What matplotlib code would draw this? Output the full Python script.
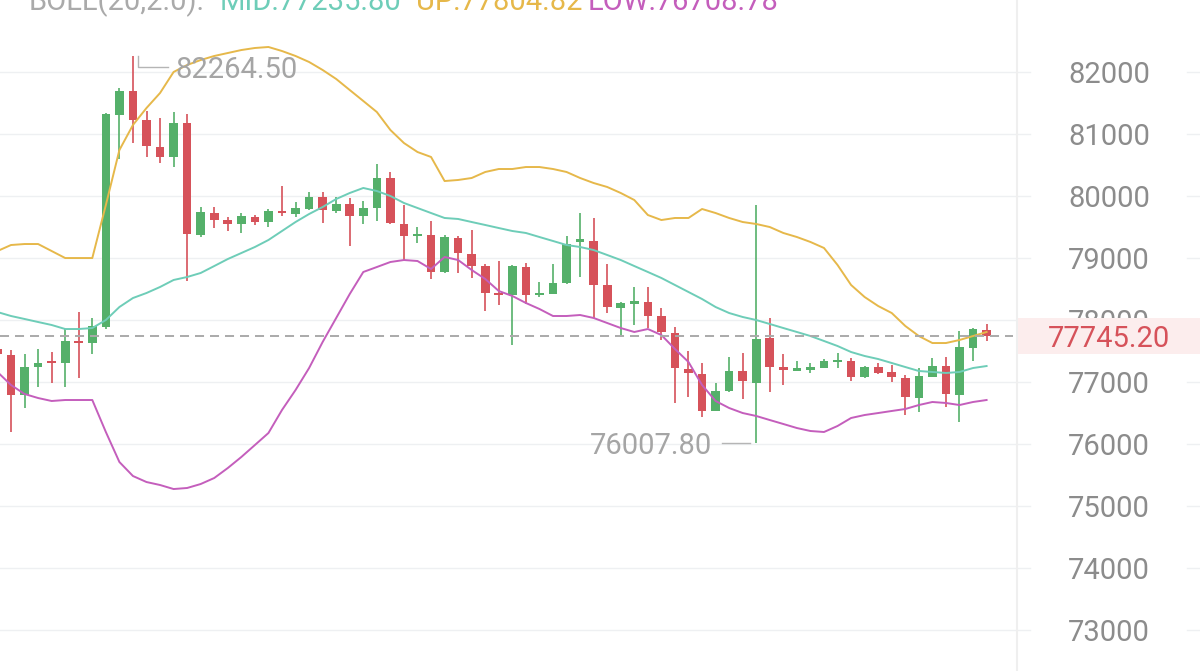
import numpy as np
import matplotlib
matplotlib.use("Agg")
import matplotlib.pyplot as plt
from matplotlib.patches import Rectangle
from matplotlib.transforms import blended_transform_factory

plt.rcParams['font.family'] = ['Roboto', 'DejaVu Sans']
plt.rcParams['lines.scale_dashes'] = False

# candles (oldest -> newest)
opens = [77532, 77435, 76790, 77246, 77327, 77301, 77661, 77623, 77891, 81306,
         81698, 81225, 80795, 80624, 81182, 79375, 79720, 79612, 79548, 79666,
         79580, 79753, 79709, 79790, 79978, 79753, 79870, 79677, 79801, 80295,
         79548, 79354, 79370, 78779, 79327, 79064, 78870, 78440, 78398, 78859,
         78408, 78419, 78591, 79258, 79279, 78564, 78188, 78257, 78295, 78064,
         77795, 77204, 77128, 76532, 76854, 77182, 76988, 77704, 77236, 77182,
         77193, 77230, 77322, 77343, 77075, 77236, 77166, 77069, 76746, 77085,
         77257, 76790, 77543, 77838]
closes = [77451, 76790, 77241, 77311, 77301, 77661, 77623, 77903, 81322, 81698,
          81225, 80806, 80624, 81182, 79387, 79741, 79612, 79548, 79677, 79580,
          79763, 79720, 79801, 79988, 79774, 79870, 79682, 79801, 80295, 79569,
          79354, 79387, 78779, 79343, 79075, 78870, 78440, 78398, 78870, 78403,
          78440, 78601, 79225, 79301, 78564, 78204, 78279, 78306, 78064, 77811,
          77220, 77140, 76536, 76859, 77182, 77015, 77688, 77246, 77193, 77230,
          77246, 77338, 77354, 77075, 77246, 77149, 77085, 76752, 77096, 77257,
          76806, 77559, 77849, 77745.2]
highs = [77580, 77515, 77451, 77532, 77478, 77849, 78133, 78027, 81333, 81746,
         82264.5, 81375, 81253, 81359, 81322, 79817, 79817, 79666, 79720, 79693,
         79785, 80161, 79898, 80069, 80059, 79978, 79962, 79924, 80516, 80392,
         79854, 79495, 79601, 79370, 79354, 79451, 78903, 78956, 78887, 78924,
         78617, 78898, 79359, 79730, 79640, 78898, 78295, 78527, 78527, 78188,
         77891, 77504, 77301, 76978, 77398, 77462, 79854, 78027, 77446, 77338,
         77311, 77365, 77462, 77382, 77257, 77301, 77274, 77112, 77220, 77382,
         77407, 77827, 77865, 77935]
lows = [77386, 76193, 76580, 76919, 76978, 76924, 77069, 77446, 77849, 80591,
        80859, 80633, 80537, 80462, 78633, 79343, 79478, 79440, 79408, 79532,
        79504, 79677, 79656, 79774, 79559, 79720, 79198, 79548, 79601, 79548,
        78967, 79246, 78656, 78762, 78753, 78682, 78150, 78241, 77596, 78257,
        78365, 78411, 78580, 78698, 78027, 78107, 77757, 77919, 77865, 77677,
        76656, 76762, 76430, 76525, 76846, 76720, 76007.8, 76843, 76951, 77177,
        77140, 77220, 77220, 77020, 77064, 77128, 77004, 76467, 76520, 77080,
        76601, 76359, 77343, 77666]

# bollinger bands
boll_up = [79112, 79209, 79225, 79225, 79112, 78999, 78999, 78999, 79854, 80741,
           81145, 81419, 81661, 82000, 82113, 82193, 82258, 82306, 82354, 82387,
           82403, 82338, 82258, 82161, 82032, 81887, 81709, 81532, 81354, 81064,
           80854, 80709, 80629, 80241, 80258, 80290, 80387, 80435, 80435, 80467,
           80467, 80435, 80387, 80290, 80209, 80145, 80048, 79935, 79693, 79612,
           79645, 79645, 79790, 79725, 79645, 79580, 79548, 79499, 79403, 79338,
           79258, 79161, 78887, 78564, 78370, 78225, 78112, 77903, 77741, 77628,
           77628, 77677, 77741, 77806]
boll_mid = [78128, 78064, 78016, 77967, 77919, 77854, 77854, 77870, 77999, 78209,
            78354, 78435, 78532, 78645, 78693, 78758, 78870, 78983, 79080, 79177,
            79290, 79435, 79580, 79709, 79822, 79951, 80048, 80129, 80080, 80000,
            79887, 79806, 79725, 79645, 79629, 79580, 79532, 79483, 79435, 79403,
            79338, 79274, 79209, 79177, 79128, 79048, 78967, 78870, 78774, 78677,
            78564, 78451, 78338, 78209, 78112, 78048, 77999, 77935, 77870, 77806,
            77741, 77661, 77580, 77483, 77419, 77370, 77306, 77241, 77177, 77161,
            77145, 77161, 77225, 77257]
boll_low = [77161, 76951, 76806, 76741, 76693, 76709, 76709, 76709, 76193, 75709,
            75483, 75386, 75338, 75273, 75290, 75354, 75451, 75612, 75790, 75983,
            76177, 76548, 76870, 77225, 77645, 78032, 78419, 78774, 78854, 78935,
            78967, 78951, 78822, 79016, 78967, 78806, 78661, 78467, 78387, 78274,
            78177, 78064, 78064, 78080, 78032, 77951, 77870, 77806, 77854, 77757,
            77532, 77322, 76951, 76693, 76580, 76499, 76451, 76386, 76322, 76257,
            76209, 76193, 76290, 76419, 76467, 76499, 76532, 76564, 76628, 76677,
            76661, 76628, 76677, 76709]

y_ticks = [73000, 74000, 75000, 76000, 77000, 78000, 79000, 80000, 81000, 82000]
header = [("BOLL(20,2.0):", "#AAAAAA"), ("MID:77235.80", "#6ECDB8"),
          ("UP:77804.82", "#E6B84A"), ("LOW:76708.78", "#C45EBC")]

GREEN = "#55B06A"
RED = "#D6525A"
W, H = 1200, 671

fig = plt.figure(figsize=(W / 100, H / 100), dpi=100)
ax = fig.add_axes([0, 0, 1, 1])
ax.set_xlim(0.188, 88.75)
ax.set_ylim(72338, 83161)
ax.axis('off')
px = (83161 - 72338) / H   # price per pixel
sep = 1017 / W
tr = blended_transform_factory(ax.transAxes, ax.transData)

# grid + separator
for v in y_ticks:
    ax.plot([0, 1030 / W], [v, v], color="#EEF0F2", lw=1, transform=tr, zorder=1)
    ax.plot([1187 / W, 1], [v, v], color="#EEF0F2", lw=1, transform=tr, zorder=1)
ax.plot([sep, sep], [0, 1], color="#EFEFEF", lw=1.5, transform=ax.transAxes, zorder=1)

o = np.array(opens, float)
c = np.array(closes, float)
hi = np.array(highs, float)
lo = np.array(lows, float)
x = np.arange(len(o))
cols = np.where(c >= o, GREEN, RED)

ax.vlines(x, lo, hi, colors=cols, lw=1.2, zorder=3)
ax.bar(x, np.maximum(np.abs(c - o), 35), bottom=np.minimum(o, c), width=0.64,
       color=cols, lw=0, zorder=4)

ax.plot(x, boll_up, color="#E6B84A", lw=1.4, zorder=5)
ax.plot(x, boll_mid, color="#6ECDB8", lw=1.4, zorder=5)
ax.plot(x, boll_low, color="#C45EBC", lw=1.4, zorder=5)

# last price line
last = c[-1]
ax.plot([0, 1013 / W], [last, last], color="#AAAAAA", lw=1.4,
        ls=(0, (6.5, 4.3)), transform=tr, zorder=6)

# high / low markers
imax = int(np.argmax(hi))
dy = 11 * px
ax.plot([imax + 0.37, imax + 0.37, imax + 2.58], [hi[imax], hi[imax] - dy, hi[imax] - dy],
        color="#B5B5B5", lw=1, zorder=6)
ax.text(imax + 3.15, hi[imax] - dy, f"{hi[imax]:.2f}", fontsize=21, color="#A5A5A5",
        ha='left', va='center_baseline', zorder=6)
imin = int(np.argmin(lo))
ax.plot([imin - 2.53, imin - 0.46], [lo[imin], lo[imin]], color="#B5B5B5", lw=1, zorder=6)
ax.text(imin - 3.27, lo[imin], f"{lo[imin]:.2f}", fontsize=21, color="#A5A5A5",
        ha='right', va='center_baseline', zorder=6)

# right axis labels
for v in y_ticks:
    ax.text(1109 / W, v, str(v), transform=tr, fontsize=21, color="#8C8C8C",
            ha='center', va='center_baseline', zorder=6)
ax.add_patch(Rectangle((1018 / W, last - 18 * px), 1 - 1018 / W, 36 * px,
                       transform=tr, facecolor="#FCEDED", edgecolor='none', zorder=7))
ax.text(1109 / W, last, f"{last:.2f}", transform=tr, fontsize=21, color=RED,
        ha='center', va='center_baseline', zorder=8)

# header, cut at the top edge
hx = [29, 220, 416, 588]
for (txt, col), xp in zip(header, hx):
    fig.text(xp / W, 1 - 10 / H, txt, fontsize=21, color=col, ha='left', va='baseline')

fig.savefig("out.png", dpi=100)
